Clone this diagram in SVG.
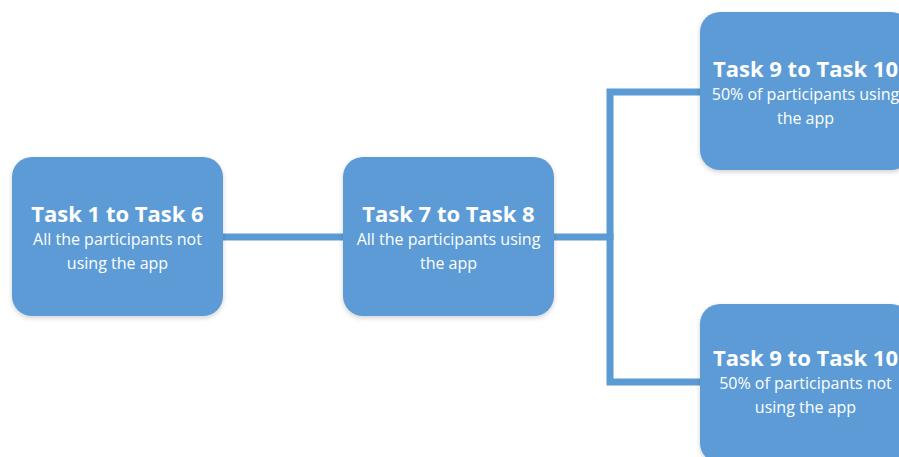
<svg xmlns="http://www.w3.org/2000/svg" width="899" height="457" viewBox="0 0 899 457">
<style>
.box{fill:#5b9bd5;filter:url(#sh)}
.t{font-family:"Open Sans","Liberation Sans",sans-serif;font-weight:bold;font-size:22px;fill:#fff;text-anchor:middle}
.s{font-family:"Open Sans","Liberation Sans",sans-serif;font-size:16px;fill:#fff;text-anchor:middle}
.c{fill:none;stroke:#5b9bd5;stroke-width:7;stroke-linejoin:miter;stroke-linecap:square}
</style>
<defs>
<filter id="sh" x="-10%" y="-10%" width="120%" height="125%">
<feDropShadow dx="0" dy="2" stdDeviation="2.5" flood-color="#000" flood-opacity="0.18"/>
</filter>
</defs>
<rect width="899" height="457" fill="#fff"/>
<g id="connectors">
<line class="c" x1="223" y1="237" x2="343" y2="237"/>
<line class="c" x1="554" y1="237" x2="610" y2="237"/>
<polyline class="c" points="700,92 610,92 610,382 700,382"/>
</g>
<g id="n1">
<rect class="box" x="12" y="157" width="211" height="159" rx="20"/>
<text class="t" x="117.5" y="222">Task 1 to Task 6</text>
<text class="s" x="117.5" y="245">All the participants not</text>
<text class="s" x="117.5" y="269">using the app</text>
</g>
<g id="n2">
<rect class="box" x="343" y="157" width="211" height="159" rx="20"/>
<text class="t" x="448.5" y="222">Task 7 to Task 8</text>
<text class="s" x="448.5" y="245">All the participants using</text>
<text class="s" x="448.5" y="269">the app</text>
</g>
<g id="n3">
<rect class="box" x="700" y="12" width="211" height="158" rx="20"/>
<text class="t" x="805.5" y="77">Task 9 to Task 10</text>
<text class="s" x="805.5" y="100">50% of participants using</text>
<text class="s" x="805.5" y="124">the app</text>
</g>
<g id="n4">
<rect class="box" x="700" y="304" width="211" height="159" rx="20"/>
<text class="t" x="805.5" y="366">Task 9 to Task 10</text>
<text class="s" x="805.5" y="389">50% of participants not</text>
<text class="s" x="805.5" y="413">using the app</text>
</g>
</svg>
